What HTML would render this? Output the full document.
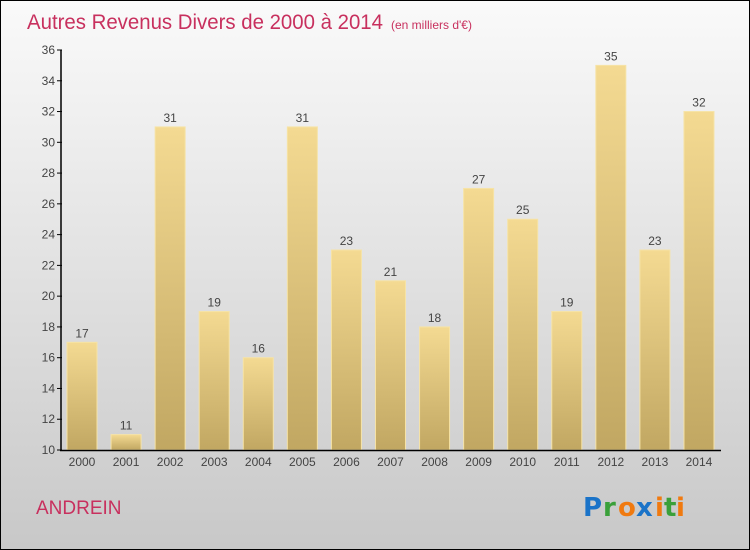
<!DOCTYPE html>
<html><head><meta charset="utf-8"><style>
body{margin:0;width:750px;height:550px;overflow:hidden}
svg{display:block;font-family:"Liberation Sans",sans-serif}
</style></head><body>
<svg width="750" height="550">
<defs>
<linearGradient id="bg" x1="0" y1="0" x2="0" y2="1"><stop offset="0" stop-color="#fafafa"/><stop offset="1" stop-color="#c8c8c8"/></linearGradient>
<linearGradient id="bar" x1="0" y1="0" x2="0" y2="1"><stop offset="0" stop-color="#f4da92"/><stop offset="1" stop-color="#c1a762"/></linearGradient>
</defs>
<rect x="0.5" y="0.5" width="749" height="549" fill="url(#bg)" stroke="#000"/>
<text x="27" y="29" font-size="21" fill="#c8305e" textLength="356" lengthAdjust="spacingAndGlyphs">Autres Revenus Divers de 2000 à 2014</text>
<text x="391" y="29" font-size="12" fill="#c8305e">(en milliers d'€)</text>
<g id="plot"></g>
<text x="36" y="514" font-size="19" fill="#c8305e">ANDREIN</text>
<g font-size="26" font-weight="bold" font-family="'DejaVu Sans',sans-serif">
<text x="583" y="516" fill="#1a73c8">P</text><text x="603" y="516" fill="#3aa03a">r</text><text x="618" y="516" fill="#f07a10">o</text><text x="636" y="516" fill="#1a73c8">x</text><text x="655" y="516" fill="#f07a10">i</text><text x="664" y="516" fill="#3aa03a">t</text><text x="676" y="516" fill="#f07a10">i</text>
</g>
</svg>
<script>
const categories=["2000","2001","2002","2003","2004","2005","2006","2007","2008","2009","2010","2011","2012","2013","2014"];
const values=[17,11,31,19,16,31,23,21,18,27,25,19,35,23,32];
const yTicks=[10,12,14,16,18,20,22,24,26,28,30,32,34,36];
const NS="http://www.w3.org/2000/svg";
const g=document.getElementById('plot');
const y=v=>450-(v-10)*400/26;
const x=i=>60+44.07*i+22;
function el(t,a,txt){const e=document.createElementNS(NS,t);for(const k in a)e.setAttribute(k,a[k]);if(txt!==undefined)e.textContent=txt;g.appendChild(e);return e;}
yTicks.forEach(v=>{
 const t=el('line',{x1:57,x2:62,y1:y(v),y2:y(v),stroke:'#000'});
 
 
 const l=el('text',{x:55,y:y(v)+4,'font-size':12,fill:'#444','text-anchor':'end'},v);
 
 
});
values.forEach((v,i)=>{
 const b=el('rect',{x:x(i)-15,y:y(v),width:30,height:450-y(v),fill:'url(#bar)',stroke:'#f6e3a6','stroke-width':1});
 
 
 const l=el('text',{x:x(i),y:y(v)-5,'font-size':12,fill:'#444','text-anchor':'middle'},v);
 
 
 const c=el('text',{x:x(i),y:466,'font-size':12,fill:'#444','text-anchor':'middle'},categories[i]);
 
 
});
const ya=el('line',{x1:61,x2:61,y1:50,y2:451,stroke:'#000','stroke-width':1.5});


const xa=el('line',{x1:60,x2:721,y1:450.5,y2:450.5,stroke:'#000','stroke-width':1.5});


</script>
</body></html>
